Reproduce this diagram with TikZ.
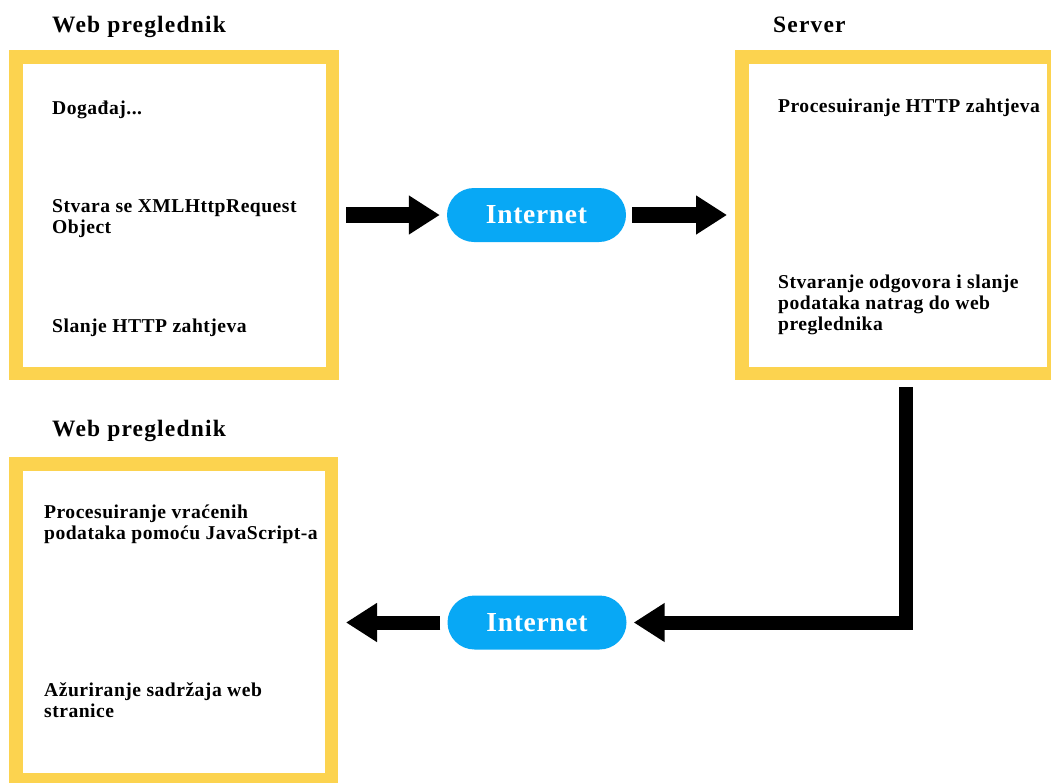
\documentclass[tikz,border=0pt]{standalone}
\usepackage{fontspec}
\setmainfont{Liberation Serif}
\newfontfamily\boxfont{Liberation Serif}[LetterSpace=2.5]
\newfontfamily\headfont{Liberation Serif}[LetterSpace=5]
\usetikzlibrary{arrows.meta}
\definecolor{boxyellow}{RGB}{252,211,79}
\definecolor{netblue}{RGB}{8,168,245}

\begin{document}
\begin{tikzpicture}[x=1pt,y=-1pt,
  frame/.style={draw=boxyellow,line width=13.5pt,minimum height=316.5pt,inner sep=0pt},
  head/.style={anchor=base west,inner sep=0pt,font=\headfont\bfseries\fontsize{23.5}{26}\selectfont},
  txt/.style={anchor=base west,inner sep=0pt,align=left,font=\boxfont\bfseries\fontsize{19.6}{21}\selectfont},
  net/.style={fill=netblue,text=white,rounded corners=27pt,minimum width=179pt,minimum height=54pt,font=\boxfont\bfseries\fontsize{27.5}{30}\selectfont},
  flow/.style={line width=16pt,-{Triangle[length=31pt,width=37pt]}}]
\useasboundingbox (0,0) rectangle (1051,782);

% boxes
\node[frame,minimum width=316.5pt] (web1) at (174,215) {};
\node[frame,minimum width=311.5pt] (server) at (897.5,215) {};
\node[frame,minimum width=315.5pt,minimum height=316pt] (web2) at (173.5,621.75) {};

% headings
\node[head] (t1) at (52,32) {Web preglednik};
\node[head] (t2) at (773,32) {Server};
\node[head] (t3) at (52,436) {Web preglednik};

% steps (base = last line)
\node[txt] (a1) at (52,114) {Događaj...};
\node[txt] (a2) at (52,233) {Stvara se XMLHttpRequest\\Object};
\node[txt] (a3) at (52,332) {Slanje HTTP zahtjeva};
\node[txt] (b1) at (778,112) {Procesuiranje HTTP zahtjeva};
\node[txt] (b2) at (778,330) {Stvaranje odgovora i slanje\\podataka natrag do web\\preglednika};
\node[txt] (c1) at (44,539) {Procesuiranje vraćenih\\podataka pomoću JavaScript-a};
\node[txt] (c2) at (44,717) {Ažuriranje sadržaja web\\stranice};

% internet
\node[net] (inet1) at (536.5,215) {Internet};
\node[net] (inet2) at (537,622.5) {Internet};
\coordinate (turn) at (906,622.5);

\draw[flow,shorten <=7pt,shorten >=7pt] (web1) -- (inet1);
\draw[flow,shorten <=6pt,shorten >=8pt] (inet1) -- (server);
\draw[flow,line width=14pt,line join=miter,shorten <=7pt,shorten >=7pt] (server.south -| turn) -- (turn) -- (inet2.east);
\draw[flow,line width=14pt,shorten <=7pt,shorten >=8pt] (inet2.west) -- (inet2.west -| web2.east);
\end{tikzpicture}
\end{document}
